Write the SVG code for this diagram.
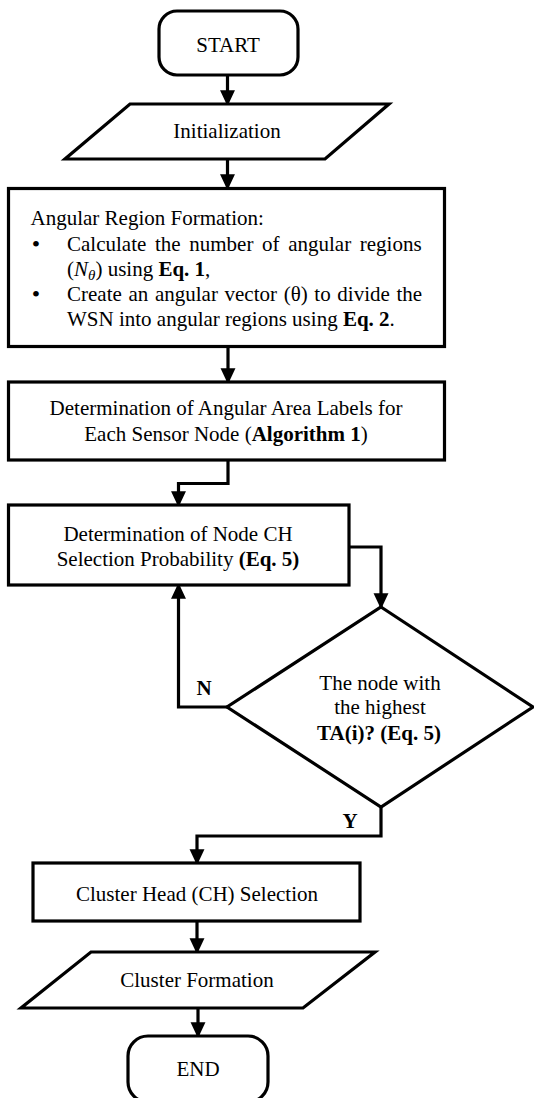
<svg xmlns="http://www.w3.org/2000/svg" width="534" height="1098" viewBox="0 0 534 1098">
<style>
.shape{fill:#fff;stroke:#000;stroke-width:3.2;stroke-linejoin:miter}
.conn{fill:none;stroke:#000;stroke-width:3.2}
text{font-family:"Liberation Serif","Times New Roman",serif;font-size:21px;fill:#000}
.c{text-anchor:middle}
.b{font-weight:bold}
.bul{text-anchor:middle;font-size:24px}
</style>
<defs>
<marker id="ah" markerUnits="userSpaceOnUse" markerWidth="16" markerHeight="16" viewBox="0 0 15 14" refX="13" refY="7" orient="auto">
<path d="M0,0 L15,7 L0,14 z" fill="#000"/>
</marker>
</defs>
<rect width="534" height="1098" fill="#fff"/>
<g id="connectors">
<path class="conn" d="M227.5 75 V104" marker-end="url(#ah)"/>
<path class="conn" d="M227.5 159 V188" marker-end="url(#ah)"/>
<path class="conn" d="M228 347 V382" marker-end="url(#ah)"/>
<path class="conn" d="M228 460 V483.5 H178.5 V505" marker-end="url(#ah)"/>
<path class="conn" d="M349 547 H381 V607" marker-end="url(#ah)"/>
<path class="conn" d="M227 707 H178.5 V585" marker-end="url(#ah)"/>
<path class="conn" d="M381 807 V836 H197 V863" marker-end="url(#ah)"/>
<path class="conn" d="M197 921 V952" marker-end="url(#ah)"/>
<path class="conn" d="M198 1008 V1036" marker-end="url(#ah)"/>
</g>
<g id="start">
<rect class="shape" x="159" y="11" width="139" height="64" rx="18"/>
<text class="c" x="228" y="52">START</text>
</g>
<g id="init">
<polygon class="shape" points="130,104 389,104 325,159 65,159"/>
<text class="c" x="227" y="138">Initialization</text>
</g>
<g id="angular">
<rect class="shape" x="8.5" y="188.5" width="436" height="158"/>
<text x="30.5" y="225">Angular Region Formation:</text>
<text class="bul" x="36" y="252">•</text>
<text x="67" y="251" word-spacing="3.4">Calculate the number of angular regions</text>
<text x="67" y="276">(<tspan font-style="italic">N</tspan><tspan font-style="italic" font-size="15" dy="4">θ</tspan><tspan dy="-4">) using </tspan><tspan class="b">Eq. 1</tspan>,</text>
<text class="bul" x="36" y="302">•</text>
<text x="67" y="301" word-spacing="1.4">Create an angular vector (θ) to divide the</text>
<text x="67" y="326">WSN into angular regions using <tspan class="b">Eq. 2</tspan>.</text>
</g>
<g id="labels">
<rect class="shape" x="8.5" y="382" width="436" height="78"/>
<text class="c" x="226" y="415">Determination of Angular Area Labels for</text>
<text class="c" x="226" y="441">Each Sensor Node (<tspan class="b">Algorithm 1</tspan>)</text>
</g>
<g id="prob">
<rect class="shape" x="8.5" y="505" width="340.5" height="80"/>
<text class="c" x="178" y="541">Determination of Node CH</text>
<text class="c" x="178" y="566">Selection Probability <tspan class="b">(Eq. 5)</tspan></text>
</g>
<g id="decision">
<polygon class="shape" points="381,607 533,707 381,807 227,707"/>
<text class="c" x="380" y="690">The node with</text>
<text class="c" x="380" y="714">the highest</text>
<text class="c b" x="379" y="740">TA(i)? (Eq. 5)</text>
</g>
<g id="branch-labels">
<text class="c b" x="204" y="695">N</text>
<text class="c b" x="350" y="828">Y</text>
</g>
<g id="ch">
<rect class="shape" x="33" y="863" width="327" height="58"/>
<text class="c" x="197" y="901">Cluster Head (CH) Selection</text>
</g>
<g id="formation">
<polygon class="shape" points="91,952 375,952 303,1008 21,1008"/>
<text class="c" x="197" y="987">Cluster Formation</text>
</g>
<g id="end">
<rect class="shape" x="128" y="1036" width="140" height="66" rx="20"/>
<text class="c" x="198" y="1076">END</text>
</g>
</svg>
